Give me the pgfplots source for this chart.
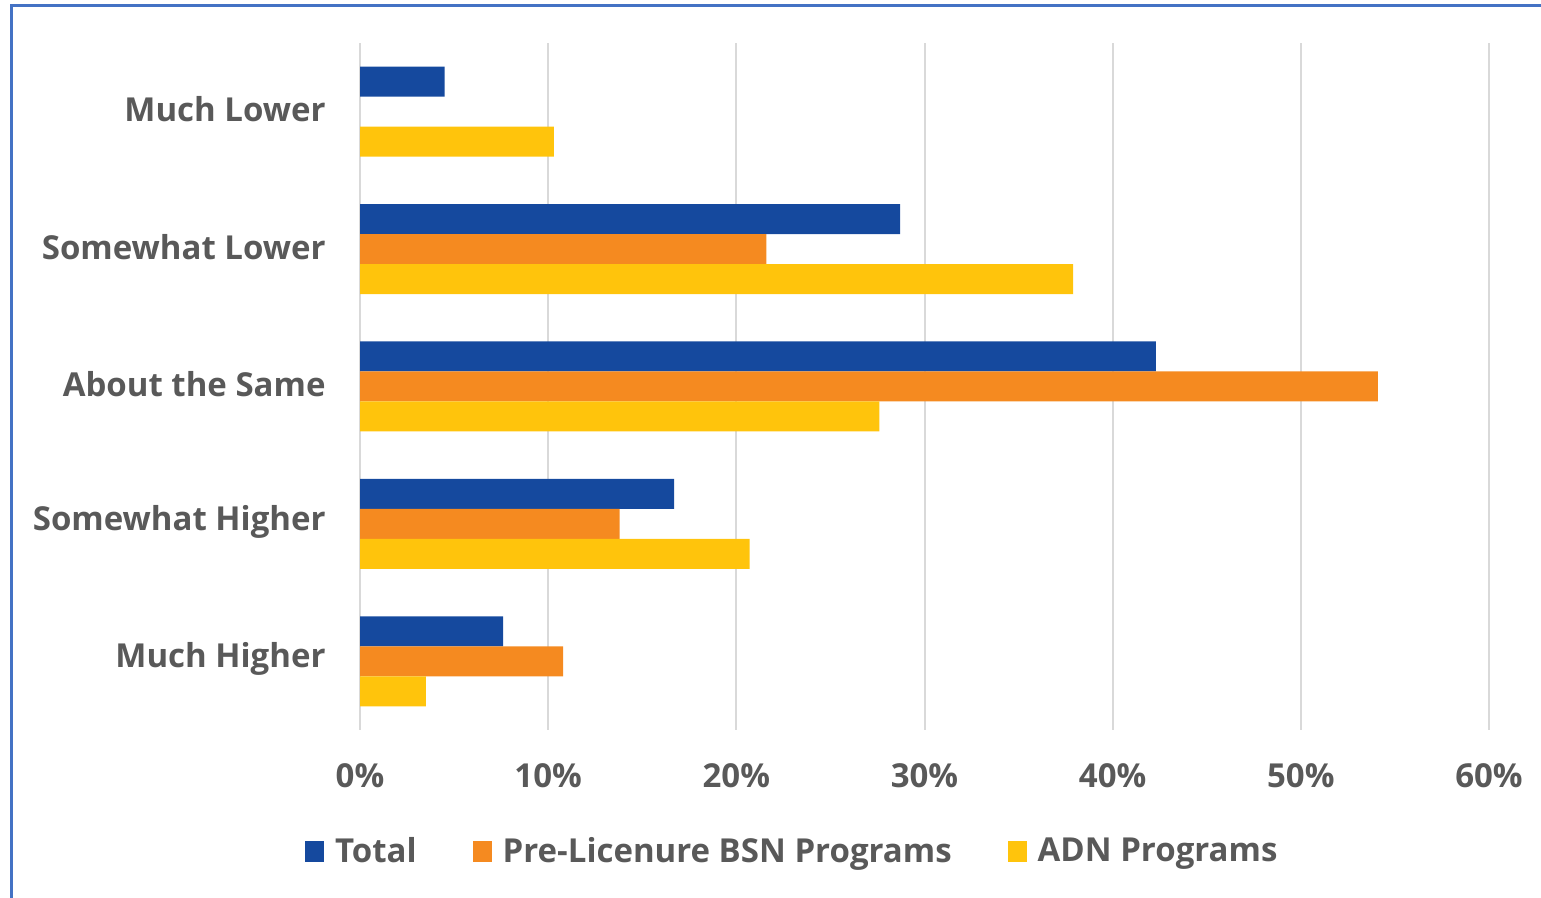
\documentclass[border=0pt]{standalone}
\usepackage{pgfplots}
\pgfplotsset{compat=1.18}
\usepackage{fontspec}
\setmainfont{Open Sans}
\definecolor{cblue}{HTML}{15499E}
\definecolor{corange}{HTML}{F58A20}
\definecolor{cyellow}{HTML}{FFC40C}
\definecolor{cgrid}{HTML}{D9D9D9}
\definecolor{ctext}{HTML}{595959}
\definecolor{cborder}{HTML}{4472C4}
\newcommand{\lblfont}{\bfseries\fontsize{16.5}{19.5}\selectfont}
\begin{document}
\begin{tikzpicture}
\path[use as bounding box] (0pt,0pt) rectangle (770.5pt,449pt);
\draw[color=cborder, line width=1.5pt] (5.5pt,0pt) -- (5.5pt,446pt) -- (772pt,446pt);
\begin{axis}[
  at={(180pt,84pt)}, anchor=south west,
  scale only axis, width=564.5pt, height=343.5pt,
  xmin=0, xmax=60, ymin=-0.5, ymax=4.5, enlargelimits=false,
  axis line style={draw=none},
  xtick={0,10,20,30,40,50,60},
  xticklabels={0\%,10\%,20\%,30\%,40\%,50\%,60\%},
  ytick={0,1,2,3,4},
  yticklabels={Much Higher,Somewhat Higher,About the Same,Somewhat Lower,Much Lower},
  major tick length=0pt, tick style={draw=none},
  xmajorgrids, grid style={color=cgrid, line width=1pt},
  xticklabel style={font=\lblfont, text=ctext, anchor=center, yshift=-23pt},
  yticklabel style={font=\lblfont, text=ctext, anchor=east, inner sep=0pt, xshift=-17pt, yshift=1.2pt},
  xbar, bar width=15pt,
  legend columns=3,
  legend style={at={(0.382,-0.1765)}, anchor=center, draw=none, fill=none,
    font=\lblfont, text=ctext,
    nodes={inner sep=0pt},
    /tikz/every odd column/.append style={column sep=5.5pt},
    /tikz/every even column/.append style={column sep=28pt}},
  legend image code/.code={\fill[#1] (0pt,-5.2pt) rectangle (9.5pt,5.2pt);},
]
\addplot[fill=cblue, draw=none, bar shift=15pt] coordinates {(7.6,0) (16.7,1) (42.3,2) (28.7,3) (4.5,4)};
\addlegendentry{Total}
\addplot[fill=corange, draw=none, bar shift=0pt] coordinates {(10.8,0) (13.8,1) (54.1,2) (21.6,3)};
\addlegendentry{Pre-Licenure BSN Programs}
\addplot[fill=cyellow, draw=none, bar shift=-15pt] coordinates {(3.5,0) (20.7,1) (27.6,2) (37.9,3) (10.3,4)};
\addlegendentry{ADN Programs}
\end{axis}
\end{tikzpicture}
\end{document}
